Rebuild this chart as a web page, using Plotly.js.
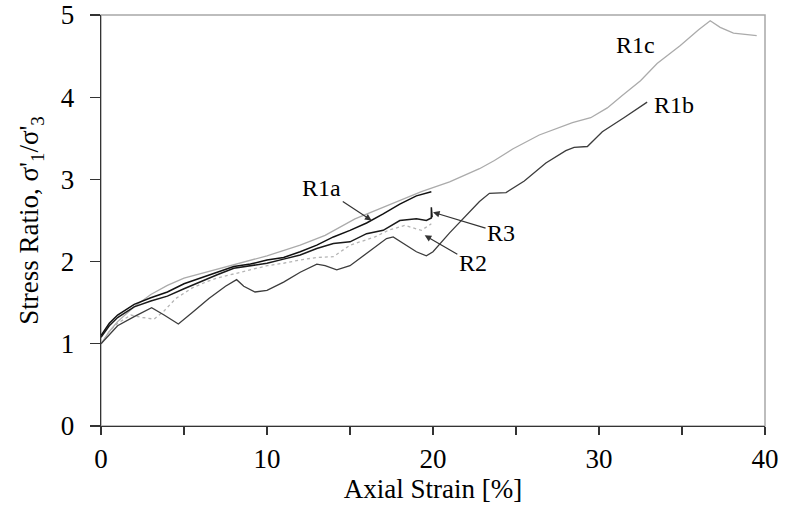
<!DOCTYPE html>
<html>
<head>
<meta charset="utf-8">
<script src="https://cdn.plot.ly/plotly-3.0.1.min.js"></script>
<style>html,body{margin:0;padding:0;background:#fff;}#chart{width:786px;height:514px;}</style>
</head>
<body>
<div id="chart"></div>
<script>
// Axial strain [%] and stress ratio values
const r1cStrain = [0, 0.5, 1, 2, 3, 4, 5, 6.5, 8, 10, 12, 13.5, 15.3, 17, 19.3, 21, 22.8, 23.7, 24.8, 26.4, 28.4, 29.5, 30.5, 31.4, 32.5, 33.5, 34.9, 36, 36.7, 37.3, 38.1, 39.5];
const r1cRatio  = [1.0, 1.15, 1.27, 1.45, 1.6, 1.71, 1.8, 1.88, 1.96, 2.07, 2.2, 2.32, 2.52, 2.66, 2.85, 2.97, 3.13, 3.23, 3.37, 3.54, 3.69, 3.75, 3.87, 4.02, 4.2, 4.41, 4.63, 4.82, 4.93, 4.85, 4.78, 4.75];

const r1bStrain = [0, 1, 2, 3.05, 3.8, 4.66, 5.5, 6.5, 7.5, 8.17, 8.6, 9.28, 10, 11, 12, 13, 13.5, 14.2, 15, 16, 17.2, 17.6, 18.2, 19, 19.6, 20, 21, 22, 22.8, 23.4, 24.4, 25.5, 26.8, 28, 28.5, 29.3, 30.2, 31.5, 32.9];
const r1bRatio  = [1.0, 1.22, 1.33, 1.44, 1.35, 1.24, 1.38, 1.55, 1.7, 1.78, 1.7, 1.63, 1.65, 1.75, 1.87, 1.97, 1.95, 1.9, 1.95, 2.1, 2.28, 2.3, 2.22, 2.12, 2.07, 2.12, 2.35, 2.56, 2.73, 2.83, 2.84, 2.98, 3.2, 3.35, 3.39, 3.4, 3.58, 3.75, 3.94];

const r1aStrain = [0, 0.5, 1, 2, 3, 4, 5, 6, 7, 8, 9, 10, 11, 12, 13, 14, 15, 16, 17, 18, 19, 19.9];
const r1aRatio  = [1.1, 1.25, 1.35, 1.48, 1.56, 1.63, 1.73, 1.8, 1.87, 1.94, 1.97, 2.02, 2.05, 2.12, 2.2, 2.3, 2.38, 2.47, 2.58, 2.7, 2.8, 2.85];

const r3Strain = [0, 0.5, 1, 2, 3, 4, 5, 6, 7, 8, 9, 10, 11, 12, 13, 14, 15, 16, 17, 18, 19, 19.6, 19.9, 19.9, 19.95];
const r3Ratio  = [1.08, 1.22, 1.32, 1.45, 1.52, 1.58, 1.67, 1.76, 1.84, 1.92, 1.95, 1.98, 2.03, 2.08, 2.16, 2.22, 2.24, 2.34, 2.38, 2.5, 2.52, 2.5, 2.53, 2.66, 2.54];

const r2Strain = [0, 0.5, 1, 1.8, 2.5, 3.2, 3.8, 4.5, 5.5, 6.3, 7, 8, 9, 10, 11, 12, 13, 14, 15, 15.9, 16.5, 17.3, 18.3, 19.3, 19.9];
const r2Ratio  = [1.0, 1.15, 1.25, 1.35, 1.32, 1.3, 1.4, 1.55, 1.68, 1.75, 1.8, 1.85, 1.9, 1.95, 1.98, 2.02, 2.05, 2.06, 2.2, 2.26, 2.3, 2.38, 2.44, 2.38, 2.46];

const xTicks = [0, 10, 20, 30, 40];
const yTicks = [0, 1, 2, 3, 4, 5];

const FONT = 'Liberation Serif';

const traces = [
  {x: r1cStrain, y: r1cRatio, mode: 'lines', line: {color: '#ababab', width: 1.3}},
  {x: r2Strain, y: r2Ratio, mode: 'lines', line: {color: '#b5b5b5', width: 1.3, dash: 'dot'}},
  {x: r1bStrain, y: r1bRatio, mode: 'lines', line: {color: '#3c3c3c', width: 1.3}},
  {x: r3Strain, y: r3Ratio, mode: 'lines', line: {color: '#1a1a1a', width: 1.5}},
  {x: r1aStrain, y: r1aRatio, mode: 'lines', line: {color: '#111111', width: 1.5}}
];

const ann = (text, x, y, extra) => Object.assign({
  text: text, x: x, y: y, xref: 'x', yref: 'y', showarrow: false,
  font: {family: FONT, size: 24, color: '#000'}
}, extra || {});

const arrow = {showarrow: true, axref: 'x', ayref: 'y', arrowhead: 2, arrowsize: 1.1, arrowwidth: 1.2, arrowcolor: '#333', standoff: 0};

const layout = {
  width: 786, height: 514,
  margin: {l: 101, r: 21, t: 14.5, b: 88},
  paper_bgcolor: '#fff', plot_bgcolor: '#fff',
  showlegend: false,
  font: {family: FONT, size: 27, color: '#000'},
  xaxis: {
    range: [0, 40], tickvals: xTicks, ticktext: xTicks.map(String),
    showgrid: false, zeroline: false, showline: true, linecolor: '#333', linewidth: 1.3,
    ticks: 'outside', ticklen: 8, tickwidth: 1.3, tickcolor: '#333',
    minor: {dtick: 5, tick0: 0, ticks: 'outside', ticklen: 8, tickwidth: 1.3, tickcolor: '#333'},
    tickfont: {family: FONT, size: 27},
    title: {text: 'Axial Strain [%]', font: {family: FONT, size: 27}, standoff: 6}
  },
  yaxis: {
    range: [0, 5], tickvals: yTicks, ticktext: yTicks.map(String),
    showgrid: false, zeroline: false, showline: true, linecolor: '#333', linewidth: 1.3,
    ticks: 'outside', ticklen: 10, tickwidth: 1.3, tickcolor: '#333',
    ticklabelstandoff: 10,
    tickfont: {family: FONT, size: 27},
    title: {text: "Stress Ratio, σ'<sub>1</sub>/σ'<sub>3</sub>", font: {family: FONT, size: 27}, standoff: 14}
  },
  shapes: [{type: 'rect', xref: 'paper', yref: 'paper', x0: 0, x1: 1, y0: 0, y1: 1, line: {color: '#a8a8a8', width: 1.5}, layer: 'below'}],
  annotations: [
    ann('R1c', 32.2, 4.63),
    ann('R1b', 34.5, 3.91),
    ann('R1a', 16.3, 2.5, Object.assign({ax: 13.3, ay: 2.9}, arrow)),
    ann('R3', 20.0, 2.6, Object.assign({ax: 24.1, ay: 2.35}, arrow)),
    ann('R2', 19.5, 2.32, Object.assign({ax: 22.4, ay: 1.98}, arrow))
  ]
};

Plotly.newPlot('chart', traces, layout, {displayModeBar: false, staticPlot: true});
</script>
</body>
</html>
